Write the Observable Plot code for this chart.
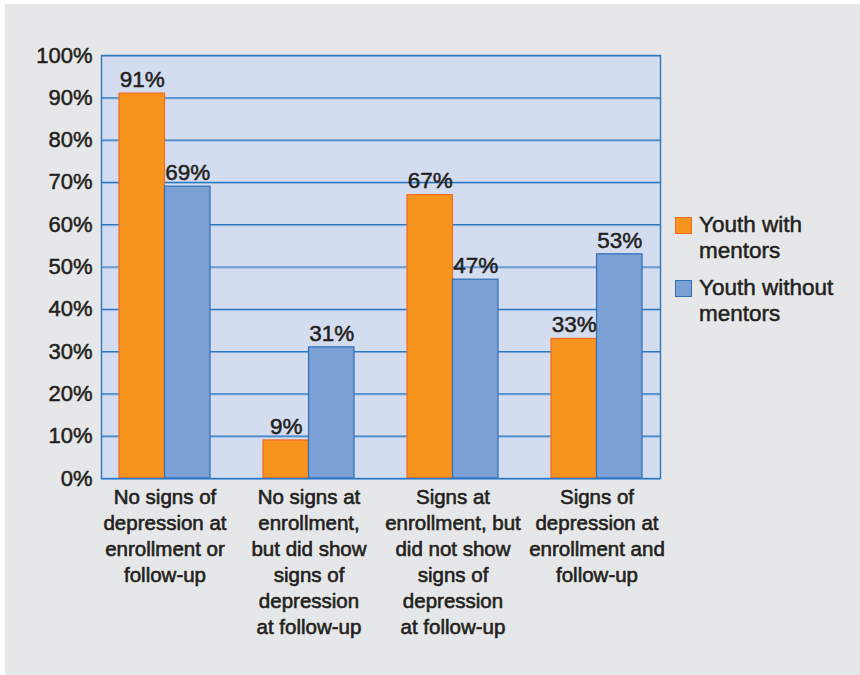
<!DOCTYPE html>
<html>
<head>
<meta charset="utf-8">
<script src="https://cdn.jsdelivr.net/npm/d3@7"></script>
<script src="https://cdn.jsdelivr.net/npm/@observablehq/plot@0.6"></script>
<style>
  html, body { margin: 0; padding: 0; background: #ffffff; }
  #wrap { position: relative; width: 860px; height: 675px; overflow: hidden; }
  #bg { position: absolute; left: 5px; top: 4px; width: 855px; height: 671px; background: #e6e7e8; }
  #chart { position: absolute; left: 0; top: 0; }
  #legend { position: absolute; left: 675px; top: 212px; font-family: "Liberation Sans", Arial, sans-serif; font-size: 22.5px; color: #231f20; -webkit-text-stroke: 0.5px #231f20; }
  .item { display: flex; align-items: flex-start; margin-bottom: 11px; line-height: 26px; }
  .sw { width: 15px; height: 15px; margin-top: 5px; margin-right: 7px; flex: none; }
</style>
</head>
<body>
<div id="wrap">
  <div id="bg"></div>
  <div id="chart"></div>
  <div id="legend"></div>
</div>
<script>
const categories = [
  "No signs of\ndepression at\nenrollment or\nfollow-up",
  "No signs at\nenrollment,\nbut did show\nsigns of\ndepression\nat follow-up",
  "Signs at\nenrollment, but\ndid not show\nsigns of\ndepression\nat follow-up",
  "Signs of\ndepression at\nenrollment and\nfollow-up"
];
const series = ["Youth with mentors", "Youth without mentors"];
const legendLabels = ["Youth with\nmentors", "Youth without\nmentors"];
const withMentors = [91, 9, 67, 33];
const withoutMentors = [69, 31, 47, 53];
const yTicks = [0, 10, 20, 30, 40, 50, 60, 70, 80, 90, 100];
const fills = ["#f7941d", "#7ba1d4"];
const strokes = ["#f26a24", "#2f6fb5"];

const dataA = categories.map((c, i) => ({cat: c, value: withMentors[i]}));
const dataB = categories.map((c, i) => ({cat: c, value: withoutMentors[i]}));

const width = 860, height = 675;
const mL = 101, mR = 200, mT = 55, mB = 197;
const pInner = 0.37, pOuter = 0.119;
const step = (width - mL - mR) / (categories.length - pInner + 2 * pOuter);
const bw = step * (1 - pInner);
const half = bw / 2;

const font = "'Liberation Sans', Arial, sans-serif";
const fs = 20.5;
const ink = "#231f20";
const txt = {fill: ink, stroke: ink, strokeWidth: 0.6, fontSize: fs};
const num = {fill: ink, stroke: ink, strokeWidth: 0.5, fontSize: 22.5};

const chart = Plot.plot({
  width, height,
  marginLeft: mL, marginRight: mR, marginTop: mT, marginBottom: mB,
  style: {fontFamily: font, fontSize: fs + "px", color: ink, background: "transparent", overflow: "visible"},
  x: {type: "band", domain: categories, paddingInner: pInner, paddingOuter: pOuter, axis: null},
  y: {domain: [0, 100], axis: null},
  marks: [
    Plot.frame({fill: "#d4ddef", stroke: null}),
    Plot.ruleY(yTicks, {y: d => d, stroke: "#8fb4e0", strokeWidth: 1, dy: 1}),
    Plot.ruleY(yTicks, {y: d => d, stroke: "#2a78c2", strokeWidth: 1.2}),
    Plot.barY(dataA, {x: "cat", y: "value", fill: fills[0], stroke: strokes[0], strokeWidth: 1.2, insetRight: half}),
    Plot.barY(dataB, {x: "cat", y: "value", fill: fills[1], stroke: strokes[1], strokeWidth: 1.2, insetLeft: half}),
    Plot.frame({stroke: "#2a78c2", strokeWidth: 1.4}),
    Plot.text(dataA, {x: "cat", y: "value", text: d => d.value + "%", dx: -half / 2, dy: -14, ...num}),
    Plot.text(dataB, {x: "cat", y: "value", text: d => d.value + "%", dx: half / 2, dy: -14, ...num}),
    Plot.text(yTicks, {frameAnchor: "left", y: d => d, text: d => d + "%", textAnchor: "end", dx: -9, ...num, fontSize: 22}),
    Plot.text(categories, {x: d => d, y: 0, text: d => d, lineAnchor: "top", dy: 7, lineHeight: 26 / fs, ...txt})
  ]
});
document.getElementById("chart").appendChild(chart);

const legend = document.getElementById("legend");
series.forEach((s, i) => {
  const item = document.createElement("div");
  item.className = "item";
  const sw = document.createElement("div");
  sw.className = "sw";
  sw.style.background = fills[i];
  sw.style.border = "1.5px solid " + strokes[i];
  const lab = document.createElement("div");
  lab.innerHTML = legendLabels[i].split("\n").join("<br>");
  item.appendChild(sw);
  item.appendChild(lab);
  legend.appendChild(item);
});
</script>
</body>
</html>
